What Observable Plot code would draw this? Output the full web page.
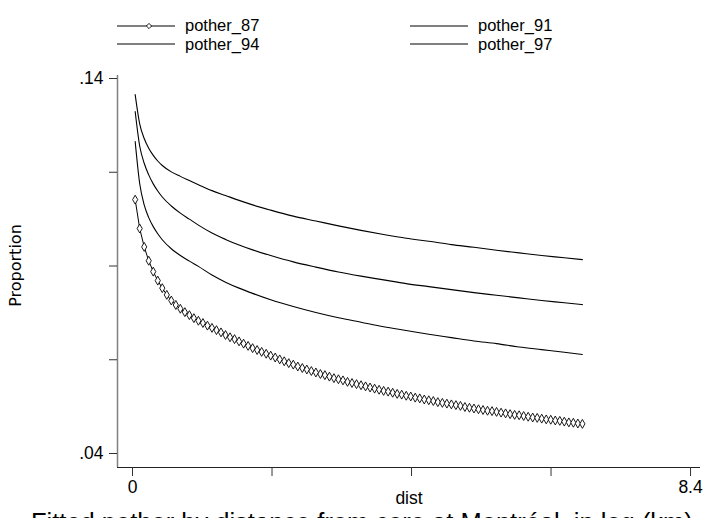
<!DOCTYPE html>
<html><head><meta charset="utf-8">
<script src="https://cdn.jsdelivr.net/npm/d3@7"></script>
<script src="https://cdn.jsdelivr.net/npm/@observablehq/plot@0.6"></script>
<style>
body{margin:0;background:#fff;overflow:hidden;font-family:"Liberation Sans",Arial,sans-serif;}
#wrap{width:704px;height:518px;overflow:hidden;position:relative;background:#fff}
#legend{position:relative;height:52px;width:704px}
.item{position:absolute;height:18px;display:flex;align-items:center;font-size:16.5px;line-height:17px;white-space:nowrap}
.item svg{display:block;margin-right:10px}
#caption{position:absolute;left:31px;top:509px;font-size:25.5px;line-height:26px;white-space:nowrap}
#chart svg{display:block}
</style></head>
<body><div id="wrap"><div id="legend"></div><div id="chart"></div><div id="caption"></div></div>
<script>
const seriesNames = ["pother_87","pother_91","pother_94","pother_97"];
const legendOrder = ["pother_87","pother_91","pother_94","pother_97"];
const xTicks = [0, 2.1, 4.2, 6.3, 8.4];
const xTickLabels = ["0", "", "", "", "8.4"];
const yTicks = [0.14, 0.115, 0.09, 0.065, 0.04];
const yTickLabels = [".14", "", "", "", ".04"];
const xLabel = "dist";
const yLabel = "Proportion";
const captionText = "Fitted pother by distance from core at Montréal, in log (km)";

const dist87 = [0.040,0.108,0.176,0.244,0.312,0.380,0.448,0.516,0.584,0.652,
0.720,0.788,0.856,0.924,0.992,1.060,1.128,1.196,1.264,1.332,
1.400,1.468,1.536,1.604,1.672,1.740,1.808,1.876,1.944,2.012,
2.080,2.148,2.216,2.284,2.352,2.420,2.488,2.556,2.624,2.692,
2.760,2.828,2.896,2.964,3.032,3.100,3.168,3.236,3.304,3.372,
3.440,3.508,3.576,3.644,3.712,3.780,3.848,3.916,3.984,4.052,
4.120,4.188,4.256,4.324,4.392,4.460,4.528,4.596,4.664,4.732,
4.800,4.868,4.936,5.004,5.072,5.140,5.208,5.276,5.344,5.412,
5.480,5.548,5.616,5.684,5.752,5.820,5.888,5.956,6.024,6.092,
6.160,6.228,6.296,6.364,6.432,6.500,6.568,6.636,6.704,6.772];
const pother87 = [0.1077,0.1000,0.0951,0.0914,0.0885,0.0861,0.0841,0.0823,0.0808,0.0796,
0.0786,0.0777,0.0769,0.0761,0.0754,0.0748,0.0741,0.0735,0.0729,0.0723,
0.0716,0.0710,0.0705,0.0699,0.0693,0.0687,0.0681,0.0676,0.0671,0.0666,
0.0661,0.0656,0.0651,0.0646,0.0641,0.0637,0.0632,0.0628,0.0624,0.0620,
0.0616,0.0612,0.0609,0.0605,0.0601,0.0598,0.0595,0.0591,0.0588,0.0585,
0.0582,0.0579,0.0576,0.0573,0.0570,0.0567,0.0565,0.0562,0.0559,0.0557,
0.0554,0.0552,0.0549,0.0547,0.0544,0.0542,0.0540,0.0537,0.0535,0.0533,
0.0531,0.0529,0.0527,0.0524,0.0522,0.0520,0.0518,0.0516,0.0514,0.0513,
0.0511,0.0509,0.0507,0.0505,0.0503,0.0502,0.0500,0.0498,0.0496,0.0495,
0.0493,0.0491,0.0490,0.0488,0.0487,0.0485,0.0483,0.0482,0.0480,0.0479];

const distFit = [0.04,0.108,0.176,0.244,0.312,0.38,0.448,0.584,0.72,0.856,0.992,1.196,1.4,1.604,1.808,2.08,2.42,2.76,3.1,3.44,3.78,4.12,4.46,4.8,5.14,5.48,5.82,6.16,6.5,6.772];
const pother97 = [0.1357,0.1279,0.1240,0.1214,0.1195,0.1180,0.1168,0.1151,0.1139,0.1128,0.1117,0.1101,0.1088,0.1075,0.1063,0.1049,0.1033,0.1020,0.1007,0.0995,0.0984,0.0974,0.0966,0.0957,0.0950,0.0942,0.0935,0.0928,0.0922,0.0917];
const pother94 = [0.1312,0.1220,0.1174,0.1143,0.1119,0.1100,0.1084,0.1060,0.1041,0.1025,0.1009,0.0988,0.0971,0.0956,0.0943,0.0928,0.0911,0.0897,0.0884,0.0873,0.0863,0.0853,0.0845,0.0837,0.0829,0.0822,0.0815,0.0808,0.0802,0.0797];
const pother91 = [0.1232,0.1120,0.1063,0.1029,0.1005,0.0986,0.0970,0.0946,0.0928,0.0913,0.0899,0.0876,0.0857,0.0841,0.0827,0.0810,0.0792,0.0776,0.0762,0.0750,0.0738,0.0728,0.0718,0.0709,0.0700,0.0693,0.0684,0.0677,0.0670,0.0664];

const d87 = dist87.map((d,i)=>({dist:d, p:pother87[i]}));
const fits = [];
[["pother_91",pother91],["pother_94",pother94],["pother_97",pother97]].forEach(([name,arr])=>{
  distFit.forEach((d,i)=>fits.push({series:name, dist:d, p:arr[i]}));
});

const xDomain = [-0.226, 8.55];
const yDomain = [0.03627, 0.1408];

const chart = Plot.plot({
  width: 704, height: 456,
  marginLeft: 117, marginRight: 4, marginTop: 23, marginBottom: 41,
  x: {domain: xDomain},
  y: {domain: yDomain},
  style: {fontFamily: "Liberation Sans, Arial, sans-serif", fontSize: "17.5px", background: "#fff", color: "#000", overflow: "visible"},
  marks: [
    Plot.ruleX([xDomain[0]], {stroke: "#808080", strokeWidth: 1.5}),
    Plot.ruleY([yDomain[0]], {stroke: "#222", strokeWidth: 1.2}),
    Plot.axisY({ticks: yTicks, tickSize: 8, tickPadding: 6, label: null,
      tickFormat: d => yTickLabels[yTicks.indexOf(d)], stroke: "#333"}),
    Plot.axisX({ticks: xTicks, tickSize: 9, tickPadding: 4, label: null,
      tickFormat: d => xTickLabels[xTicks.indexOf(d)], stroke: "#333"}),
    Plot.text([xLabel], {frameAnchor: "bottom", dy: 31, lineAnchor: "middle", textAnchor: "middle", fill: "#000"}),
    Plot.text([yLabel], {frameAnchor: "left", dx: -102, dy: -6, rotate: -90, textAnchor: "middle", lineAnchor: "middle", fill: "#000", fontSize: 16, fontFamily: "DejaVu Sans, sans-serif"}),
    Plot.line(fits, {x: "dist", y: "p", z: "series", stroke: "#000", strokeWidth: 1.1, curve: "monotone-x"}),
    Plot.line(d87, {x: "dist", y: "p", stroke: "#000", strokeWidth: 1}),
    Plot.dot(d87, {x: "dist", y: "p", symbol: "diamond", r: 2.7, stroke: "#000", fill: "#fff", strokeWidth: 0.9})
  ]
});
document.getElementById("chart").appendChild(chart);

// legend
const legend = document.getElementById("legend");
const pos = [[117,16.5],[410,16.5],[117,35],[410,35]];
legendOrder.forEach((name,i)=>{
  const div = document.createElement("div");
  div.className = "item";
  div.style.left = pos[i][0]+"px";
  div.style.top = pos[i][1]+"px";
  const ns = "http://www.w3.org/2000/svg";
  const s = document.createElementNS(ns,"svg");
  s.setAttribute("width","58"); s.setAttribute("height","10");
  const l = document.createElementNS(ns,"line");
  l.setAttribute("x1","0"); l.setAttribute("x2","58"); l.setAttribute("y1","5"); l.setAttribute("y2","5");
  l.setAttribute("stroke","#000"); l.setAttribute("stroke-width","1");
  s.appendChild(l);
  if (name === "pother_87") {
    const p = document.createElementNS(ns,"path");
    p.setAttribute("d","M32,2.4L34.6,5L32,7.6L29.4,5Z");
    p.setAttribute("fill","#fff"); p.setAttribute("stroke","#000"); p.setAttribute("stroke-width","0.9");
    s.appendChild(p);
  }
  div.appendChild(s);
  const t = document.createElement("span");
  t.textContent = name;
  div.appendChild(t);
  legend.appendChild(div);
});
document.getElementById("caption").textContent = captionText;
</script></body></html>
